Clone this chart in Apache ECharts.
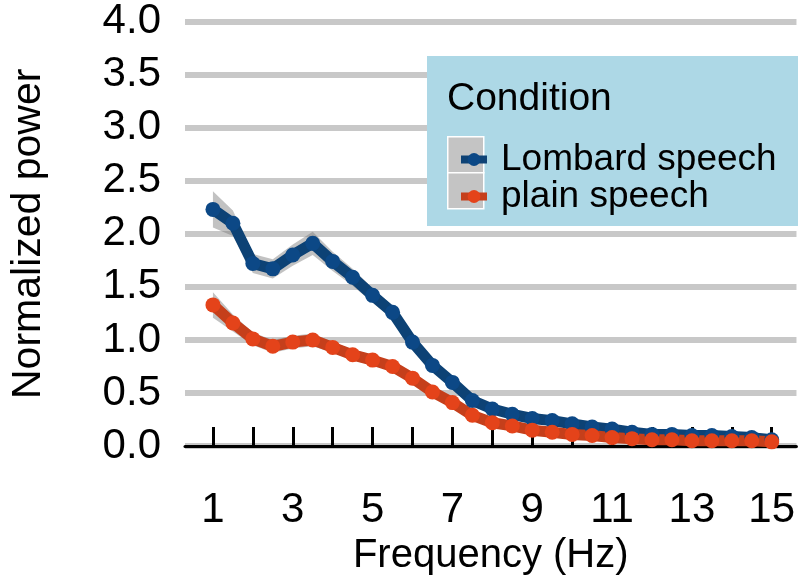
<!DOCTYPE html>
<html>
<head>
<meta charset="utf-8">
<script src="https://cdn.jsdelivr.net/npm/echarts@6/dist/echarts.min.js"></script>
<style>
  html, body { margin: 0; padding: 0; background: #fff; }
  #chart { width: 798px; height: 581px; }
</style>
</head>
<body>
<div id="chart"></div>
<script>
// frequency (Hz) of each sample
var freqs = [1, 1.5, 2, 2.5, 3, 3.5, 4, 4.5, 5, 5.5, 6, 6.5, 7, 7.5, 8, 8.5, 9, 9.5, 10, 10.5, 11, 11.5, 12, 12.5, 13, 13.5, 14, 14.5, 15];
// normalized power
var lombard = [2.23, 2.10, 1.72, 1.67, 1.80, 1.91, 1.74, 1.59, 1.42, 1.26, 0.98, 0.76, 0.60, 0.43, 0.35, 0.30, 0.26, 0.24, 0.21, 0.18, 0.16, 0.13, 0.11, 0.11, 0.10, 0.10, 0.09, 0.08, 0.06];
var plain = [1.33, 1.16, 1.01, 0.94, 0.98, 1.00, 0.93, 0.86, 0.81, 0.75, 0.64, 0.51, 0.41, 0.29, 0.22, 0.19, 0.15, 0.13, 0.11, 0.10, 0.08, 0.07, 0.06, 0.06, 0.05, 0.05, 0.05, 0.05, 0.04];
// half width of the grey ribbon
var lombardSe = [0.17, 0.12, 0.09, 0.09, 0.10, 0.11, 0.09, 0.08, 0.07, 0.06, 0.05, 0.05, 0.04, 0.04, 0.03, 0.03, 0.03, 0.03, 0.03, 0.03, 0.02, 0.02, 0.02, 0.02, 0.02, 0.02, 0.02, 0.02, 0.02];
var plainSe = [0.12, 0.08, 0.06, 0.06, 0.06, 0.06, 0.05, 0.05, 0.05, 0.04, 0.04, 0.04, 0.04, 0.03, 0.03, 0.03, 0.03, 0.02, 0.02, 0.02, 0.02, 0.02, 0.02, 0.02, 0.02, 0.02, 0.02, 0.02, 0.02];

var xTicks = [1, 2, 3, 4, 5, 6, 7, 8, 9, 10, 11, 12, 13, 14, 15];
var xLabels = [1, 3, 5, 7, 9, 11, 13, 15];

var names = ['Lombard speech', 'plain speech'];
var lineColors = ['#0d4275', '#c53f1b'];
var dotColors = ['#0c4886', '#e4431a'];

var FONT = 'Liberation Sans, Arial, sans-serif';

function pairs(ys) {
    return freqs.map(function (f, i) { return [f, ys[i]]; });
}

// grey ribbon (mean +- se), drawn as one polygon through the axes
function ribbon(ys, se) {
    var rows = freqs.map(function (f, i) { return [f, ys[i] - se[i], ys[i] + se[i]]; });
    return {
        type: 'custom',
        silent: true,
        data: rows,
        encode: { x: 0, y: [1, 2] },
        z: 1,
        renderItem: function (params, api) {
            if (params.dataIndex !== 0) return null;
            var pts = [];
            rows.forEach(function (r) { pts.push(api.coord([r[0], r[2]])); });
            for (var i = rows.length - 1; i >= 0; i--) pts.push(api.coord([rows[i][0], rows[i][1]]));
            return {
                type: 'polygon',
                shape: { points: pts },
                style: { fill: 'rgba(120,120,120,0.45)' }
            };
        }
    };
}

function mainLine(k, ys) {
    return {
        name: names[k],
        type: 'line',
        data: pairs(ys),
        symbol: 'circle',
        symbolSize: 15,
        lineStyle: { color: lineColors[k], width: 11 },
        itemStyle: { color: dotColors[k] },
        z: 3
    };
}

var chart = echarts.init(document.getElementById('chart'));
chart.setOption({
    animation: false,
    grid: { left: 183, right: 0, top: 21.5, bottom: 134, containLabel: false },
    xAxis: {
        type: 'value',
        min: 0.3,
        max: 15.62,
        offset: 21,
        axisLine: { lineStyle: { color: '#000', width: 3 } },
        axisTick: { customValues: xTicks, inside: true, length: 19, lineStyle: { color: '#000', width: 3 } },
        axisLabel: { customValues: xLabels, margin: 22, fontSize: 42, color: '#000', fontFamily: FONT },
        splitLine: { show: false },
        name: 'Frequency (Hz)',
        nameLocation: 'middle',
        nameGap: 67,
        nameTextStyle: { fontSize: 40, color: '#000', fontFamily: FONT, verticalAlign: 'top' }
    },
    yAxis: {
        type: 'value',
        min: 0,
        max: 4,
        interval: 0.5,
        axisLine: { show: false },
        axisTick: { show: false },
        axisLabel: {
            margin: 24, fontSize: 42, color: '#000', fontFamily: FONT,
            formatter: function (v) { return v.toFixed(1); }
        },
        splitLine: { lineStyle: { color: '#c8c8c8', width: 6 } },
        name: 'Normalized power',
        nameLocation: 'middle',
        nameGap: 136,
        nameTextStyle: { fontSize: 41, color: '#000', fontFamily: FONT }
    },
    legend: {
        data: names,
        orient: 'vertical',
        left: 452,
        top: 136,
        itemGap: 0,
        itemWidth: 26,
        itemHeight: 16,
        lineStyle: { width: 8 },
        textStyle: { fontSize: 37, color: '#000', fontFamily: FONT, lineHeight: 36, padding: [0, 0, 0, 9] },
        z: 20
    },
    graphic: [
        { type: 'rect', left: 427, top: 56, shape: { width: 371, height: 170 }, style: { fill: '#add8e6' }, z: 10 },
        { type: 'text', left: 447, top: 80, style: { text: 'Condition', fill: '#000', font: '39px Liberation Sans, Arial, sans-serif' }, z: 11 },
        { type: 'rect', left: 447, top: 136, shape: { width: 36, height: 36 }, style: { fill: '#c4c4c4', stroke: '#fff', lineWidth: 1.5 }, z: 11 },
        { type: 'rect', left: 447, top: 172, shape: { width: 36, height: 36 }, style: { fill: '#c4c4c4', stroke: '#fff', lineWidth: 1.5 }, z: 11 }
    ],
    series: [
        ribbon(lombard, lombardSe),
        ribbon(plain, plainSe),
        mainLine(0, lombard),
        mainLine(1, plain)
    ]
});
</script>
</body>
</html>
